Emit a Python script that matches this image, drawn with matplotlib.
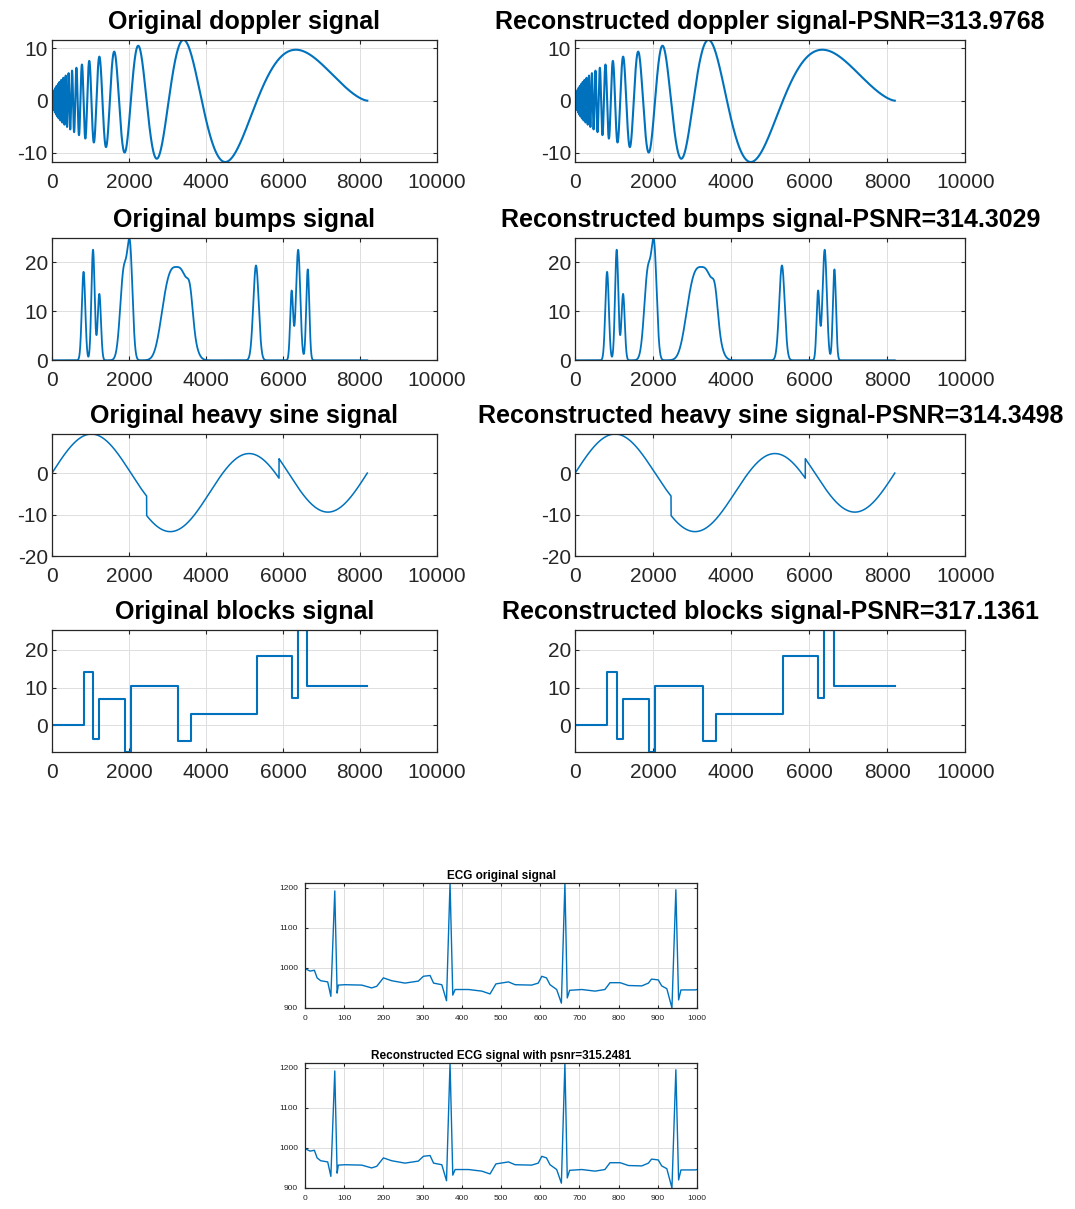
import matplotlib
matplotlib.use("Agg")
import matplotlib.pyplot as plt
import numpy as np

plt.rcParams['font.family'] = ['Liberation Sans', 'DejaVu Sans']
plt.rcParams['axes.unicode_minus'] = False

# ---- test signals (8192 samples), parameters ----
n_samples = 8192
x_ticks = [0, 2000, 4000, 6000, 8000, 10000]

# doppler: amplitude and chirp constants
doppler_amp = 23.6
doppler_freq = 1.05
doppler_shift = 0.05

# bumps: centre (sample), height, width (sample), shape exponent
bump_pos = [819, 1065, 1229, 1870, 2030, 3230, 3590, 5300, 6226, 6395, 6645]
bump_hgt = [18.0, 22.5, 13.5, 18.5, 19.5, 19.0, 4.5, 19.3, 14.0, 22.5, 18.5]
bump_wth = [45, 42, 42, 95, 65, 430, 70, 70, 38, 55, 40]
bump_shape = [2, 2, 2, 2, 2, 3, 2, 2, 2, 2, 2]

# heavy sine: sine amplitude, jump size, jump positions (fraction of length)
hsine_amp = 9.4
hsine_jump = 2.35
hsine_jump_pos = [0.30, 0.72]

# blocks: jump positions and levels
block_edges = [0, 819, 1065, 1229, 1884, 2048, 3277, 3604, 5325, 6226, 6390, 6636, 8192]
block_levels = [0, 14, -3.5, 7, -7, 10.5, -4.2, 3.15, 18.2, 7.35, 25.2, 10.5]

titles_orig = ['Original doppler signal', 'Original bumps signal',
               'Original heavy sine signal', 'Original blocks signal']
titles_rec = ['Reconstructed doppler signal-PSNR=313.9768',
              'Reconstructed bumps signal-PSNR=314.3029',
              'Reconstructed heavy sine signal-PSNR=314.3498',
              'Reconstructed blocks signal-PSNR=317.1361']
y_ticks = [[-10, 0, 10], [0, 10, 20], [-20, -10, 0], [0, 10, 20]]

# ECG: sample index / value knots
ecg_x = [0, 13, 24, 31, 40, 58, 66, 76, 82, 85, 102, 145, 170, 183, 200, 221, 255,
         289, 302, 319, 328, 349, 361, 370, 377, 383, 417, 451, 472, 487, 519, 536,
         578, 595, 604, 616, 625, 642, 654, 663, 669, 675, 706, 740, 765, 778, 804,
         825, 859, 876, 884, 901, 910, 923, 936, 946, 953, 959, 995, 1000]
ecg_y = [998, 992, 994, 975, 968, 965, 929, 1192, 937, 957, 958, 957, 950, 954, 975, 968, 962,
         967, 979, 981, 962, 958, 918, 1212, 932, 946, 946, 942, 935, 960, 965, 958,
         957, 962, 979, 975, 958, 946, 912, 1212, 925, 944, 946, 942, 946, 963, 963,
         956, 955, 962, 972, 970, 955, 948, 900, 1195, 920, 945, 945, 946]
ecg_titles = ['ECG original signal', 'Reconstructed ECG signal with psnr=315.2481']

# ---- build the signals ----
idx = np.arange(1, n_samples + 1)
t = idx / n_samples
doppler = doppler_amp * np.sqrt(t * (1 - t)) * np.sin(2 * np.pi * doppler_freq / (t + doppler_shift))

bumps = np.zeros(n_samples)
for p, h, w, e in zip(bump_pos, bump_hgt, bump_wth, bump_shape):
    if e == 2:
        bumps += h * np.exp(-0.5 * ((idx - p) / w) ** 2)
    else:
        bumps += h * np.exp(-(np.abs(idx - p) / w) ** e)

heavy = (hsine_amp * np.sin(4 * np.pi * t)
         - hsine_jump * np.sign(t - hsine_jump_pos[0])
         - hsine_jump * np.sign(hsine_jump_pos[1] - t))

signals = [doppler, bumps, heavy, None]
ylims = [(doppler.min(), doppler.max()), (0, bumps.max()),
         (-20, heavy.max()), (min(block_levels), max(block_levels))]
line_w = [1.5, 1.3, 1.1, 1.5]

blue = '#0072BD'
dark = '#262626'


def style(ax, fs, xpad, ypad):
    ax.grid(True, color='#dedede', linewidth=0.7)
    ax.set_axisbelow(True)
    ax.tick_params(direction='in', length=3, labelsize=fs, colors=dark,
                   top=True, right=True)
    ax.tick_params(axis='x', pad=xpad)
    ax.tick_params(axis='y', pad=ypad)
    for s in ax.spines.values():
        s.set_color(dark)
        s.set_linewidth(0.9)


fig = plt.figure(figsize=(10.75, 12.09), dpi=100)

row_bottoms = [0.866, 0.702, 0.540, 0.378]
col_lefts = [0.0484, 0.535]
col_widths = [0.358, 0.363]

for r in range(4):
    for c in range(2):
        ax = fig.add_axes([col_lefts[c], row_bottoms[r], col_widths[c], 0.101])
        if signals[r] is not None:
            ax.plot(idx, signals[r], color=blue, linewidth=line_w[r])
        else:
            ax.step(block_edges, block_levels + [block_levels[-1]], where='post',
                    color=blue, linewidth=line_w[r])
        ax.set_xlim(0, 10000)
        ax.set_ylim(*ylims[r])
        ax.set_xticks(x_ticks)
        ax.set_yticks(y_ticks[r])
        style(ax, 15, 8, 3)
        title = titles_orig[r] if c == 0 else titles_rec[r]
        ax.set_title(title, fontsize=18, fontweight='bold', pad=8)

ecg_bottoms = [0.1663, 0.0174]
for k in range(2):
    ax = fig.add_axes([0.2837, ecg_bottoms[k], 0.3647, 0.1034])
    ax.plot(ecg_x, ecg_y, color=blue, linewidth=1.0)
    ax.set_xlim(0, 1000)
    ax.set_ylim(900, 1212)
    ax.set_xticks(np.arange(0, 1001, 100))
    ax.set_yticks([900, 1000, 1100, 1200])
    style(ax, 6, 5, 5)
    ax.tick_params(length=2)
    ax.set_title(ecg_titles[k], fontsize=8.5, fontweight='bold', pad=3)

fig.savefig('out.png', dpi=100)
